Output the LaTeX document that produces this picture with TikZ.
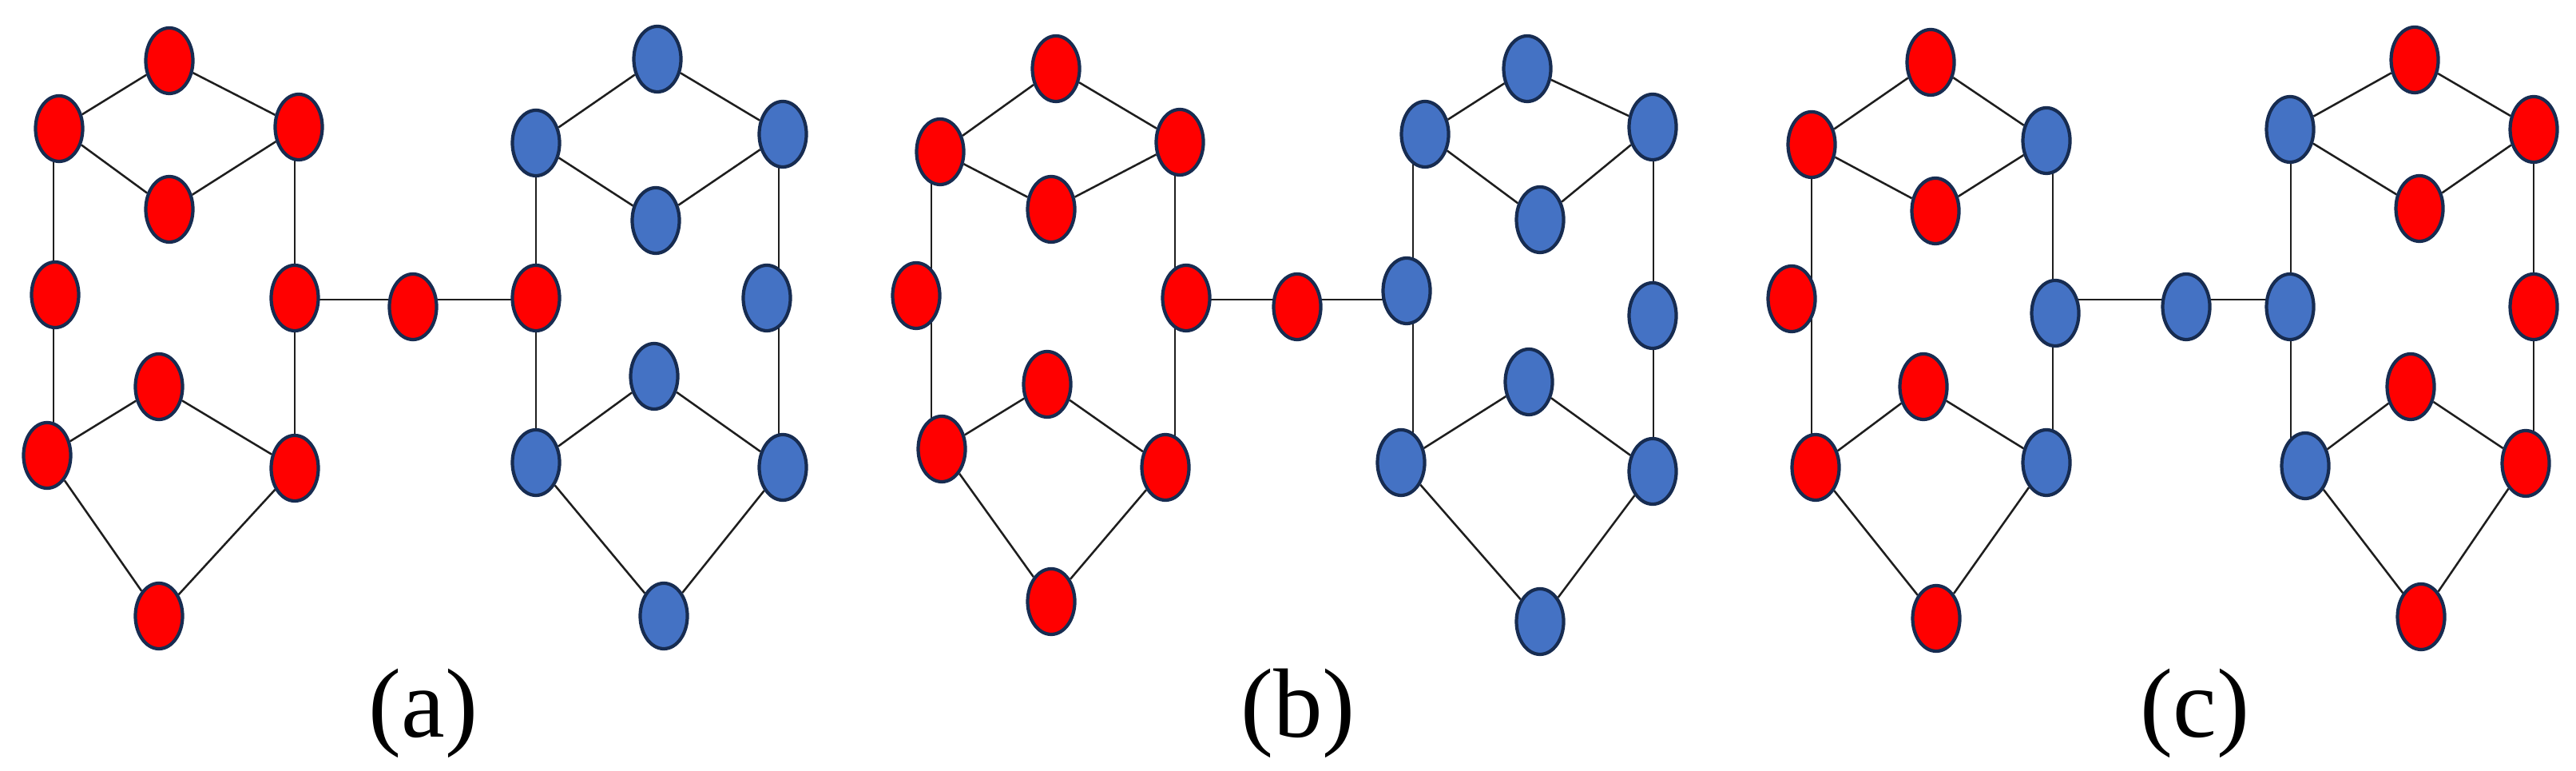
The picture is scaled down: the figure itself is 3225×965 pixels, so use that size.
\documentclass[tikz,border=0pt]{standalone}
\usepackage{fontspec}
\setmainfont{Liberation Serif}
\usetikzlibrary{shapes.geometric,backgrounds}
\definecolor{nodered}{HTML}{FF0000}
\definecolor{nodeblue}{HTML}{4472C4}
\definecolor{rimcol}{HTML}{172C51}
\definecolor{edgecol}{HTML}{1E1E1E}
\begin{document}
\begin{tikzpicture}[x=0.01cm,y=-0.01cm,
  vtx/.style={ellipse,draw=rimcol,line width=1.2pt,minimum width=0.59cm,minimum height=0.82cm,inner sep=0pt},
  rn/.style={vtx,fill=nodered},
  bn/.style={vtx,fill=nodeblue},
  edge/.style={draw=edgecol,line width=0.72pt},
  lab/.style={anchor=base,inner sep=0pt,font=\rmfamily\fontsize{35}{42}\selectfont}]
\useasboundingbox (0,0) rectangle (3225,965);
\coordinate (hy) at (0,375);
% ---------------- (a) ----------------
\node[rn] (aT)  at (212,76)  {};
\node[rn] (aUL) at (74,161)  {};
\node[rn] (aUR) at (374,159) {};
\node[rn] (aIN) at (212,262) {};
\node[rn] (aLM) at (69,369)  {};
\node[rn] (aRM) at (369,373) {};
\node[rn] (aLI) at (199,484) {};
\node[rn] (aLL) at (59,570)  {};
\node[rn] (aLR) at (369,586) {};
\node[rn] (aB)  at (199,771) {};
\node[rn] (aC)  at (517,384) {};
\node[bn] (aT2)  at (823,74)  {};
\node[bn] (aUL2) at (671,179) {};
\node[bn] (aUR2) at (980,168) {};
\node[bn] (aIN2) at (821,276) {};
\node[rn] (aLM2) at (671,373) {};
\node[bn] (aRM2) at (960,373) {};
\node[bn] (aLI2) at (819,471) {};
\node[bn] (aLL2) at (671,579) {};
\node[bn] (aLR2) at (980,585) {};
\node[bn] (aB2)  at (831,771) {};
\coordinate (ax1) at (67,0);   \coordinate (ax2) at (369,0);
\coordinate (ax3) at (671,0);  \coordinate (ax4) at (975,0);
\node[lab] (alab) at (530,923) {(a)};
% ---------------- (b) ----------------
\node[rn] (bT)  at (1322,86)  {};
\node[rn] (bUL) at (1177,190) {};
\node[rn] (bUR) at (1477,178) {};
\node[rn] (bIN) at (1316,262) {};
\node[rn] (bLM) at (1147,370) {};
\node[rn] (bRM) at (1485,373) {};
\node[rn] (bLI) at (1311,481) {};
\node[rn] (bLL) at (1179,562) {};
\node[rn] (bLR) at (1459,585) {};
\node[rn] (bB)  at (1316,753) {};
\node[rn] (bC)  at (1624,384) {};
\node[bn] (bT2)  at (1912,86)  {};
\node[bn] (bUL2) at (1784,168) {};
\node[bn] (bUR2) at (2069,159) {};
\node[bn] (bIN2) at (1928,275) {};
\node[bn] (bLM2) at (1761,364) {};
\node[bn] (bRM2) at (2069,395) {};
\node[bn] (bLI2) at (1914,478) {};
\node[bn] (bLL2) at (1754,579) {};
\node[bn] (bLR2) at (2069,590) {};
\node[bn] (bB2)  at (1928,778) {};
\coordinate (bx1) at (1166,0); \coordinate (bx2) at (1471,0);
\coordinate (bx3) at (1769,0); \coordinate (bx4) at (2070,0);
\node[lab] (blab) at (1625,923) {(b)};
% ---------------- (c) ----------------
\node[rn] (cT)  at (2417,78)  {};
\node[rn] (cUL) at (2268,181) {};
\node[bn] (cUR) at (2562,176) {};
\node[rn] (cIN) at (2423,264) {};
\node[rn] (cLM) at (2243,374) {};
\node[bn] (cRM) at (2573,392) {};
\node[rn] (cLI) at (2408,484) {};
\node[rn] (cLL) at (2273,585) {};
\node[bn] (cLR) at (2562,579) {};
\node[rn] (cB)  at (2424,774) {};
\node[bn] (cC)  at (2737,384) {};
\node[rn] (cT2)  at (3023,75)  {};
\node[bn] (cUL2) at (2867,162) {};
\node[rn] (cUR2) at (3172,162) {};
\node[rn] (cIN2) at (3029,261) {};
\node[bn] (cLM2) at (2867,384) {};
\node[rn] (cRM2) at (3172,384) {};
\node[rn] (cLI2) at (3018,484) {};
\node[bn] (cLL2) at (2886,583) {};
\node[rn] (cLR2) at (3162,580) {};
\node[rn] (cB2)  at (3031,772) {};
\coordinate (cx1) at (2268,0); \coordinate (cx2) at (2570,0);
\coordinate (cx3) at (2868,0); \coordinate (cx4) at (3172,0);
\node[lab] (clab) at (2748,923) {(c)};
% ---------------- edges ----------------
\begin{pgfonlayer}{background}
\foreach \p in {a,b,c}{
  \draw[edge] (\p UL) -- (\p T) -- (\p UR) -- (\p IN) -- (\p UL);
  \draw[edge] (\p LL) -- (\p LI) -- (\p LR) -- (\p B) -- (\p LL);
  \draw[edge] (\p UL2) -- (\p T2) -- (\p UR2) -- (\p IN2) -- (\p UL2);
  \draw[edge] (\p LL2) -- (\p LI2) -- (\p LR2) -- (\p B2) -- (\p LL2);
  \draw[edge] (\p UL -| \p x1) -- (\p LL -| \p x1);
  \draw[edge] (\p UR -| \p x2) -- (\p LR -| \p x2);
  \draw[edge] (\p UL2 -| \p x3) -- (\p LL2 -| \p x3);
  \draw[edge] (\p UR2 -| \p x4) -- (\p LR2 -| \p x4);
  \draw[edge] (\p RM |- hy) -- (\p LM2 |- hy);
}
\end{pgfonlayer}
\end{tikzpicture}
\end{document}
